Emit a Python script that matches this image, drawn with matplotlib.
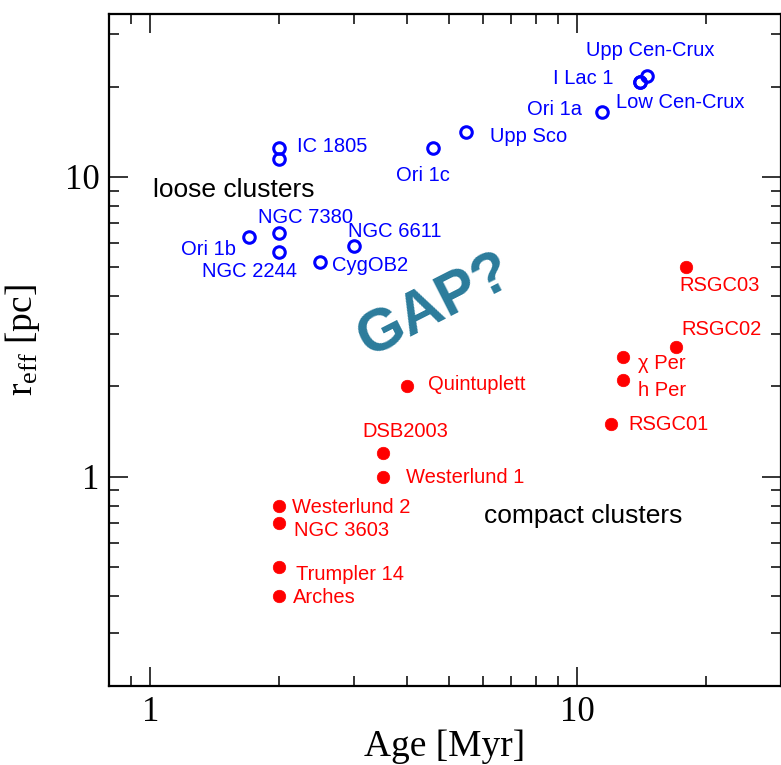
import matplotlib
matplotlib.use("Agg")
import matplotlib.pyplot as plt
from matplotlib.ticker import FuncFormatter, NullFormatter, LogLocator

plt.rcParams["mathtext.fontset"] = "custom"
plt.rcParams["mathtext.rm"] = "Liberation Serif"
plt.rcParams["mathtext.it"] = "Liberation Serif:italic"

# loose clusters (open symbols); "" = second IC 1805 estimate, no label
loose_names = ["IC 1805", "", "NGC 7380", "NGC 2244", "Ori 1b", "CygOB2",
               "NGC 6611", "Ori 1c", "Upp Sco", "Ori 1a", "I Lac 1",
               "Low Cen-Crux", "Upp Cen-Crux"]
loose_age = [2.0, 2.0, 2.0, 2.0, 1.7, 2.5, 3.0, 4.6, 5.5, 11.4, 14.0, 14.0, 14.6]
loose_reff = [12.5, 11.5, 6.5, 5.6, 6.3, 5.2, 5.9, 12.5, 14.1, 16.5, 20.7, 20.7, 21.8]

# compact clusters (filled symbols)
compact_names = ["RSGC03", "RSGC02", "\u03c7 Per", "h Per", "RSGC01",
                 "Quintuplett", "DSB2003", "Westerlund 1", "Westerlund 2",
                 "NGC 3603", "Trumpler 14", "Arches"]
compact_age = [18.0, 17.0, 12.8, 12.8, 12.0, 4.0, 3.5, 3.5, 2.0, 2.0, 2.0, 2.0]
compact_reff = [5.0, 2.7, 2.5, 2.1, 1.5, 2.0, 1.2, 1.0, 0.8, 0.7, 0.5, 0.4]

# label placement: offset in pixels from the symbol, horizontal alignment
label_pos = {
    "IC 1805": (18, 1, "left"),
    "NGC 7380": (-21, 16, "left"),
    "NGC 2244": (-77, -19, "left"),
    "Ori 1b": (-68, -12, "left"),
    "CygOB2": (12, -3, "left"),
    "NGC 6611": (-6, 14, "left"),
    "Ori 1c": (-37, -28, "left"),
    "Upp Sco": (24, -4, "left"),
    "Ori 1a": (-20, 2, "right"),
    "I Lac 1": (-26, 4, "right"),
    "Low Cen-Crux": (-24, -20, "left"),
    "Upp Cen-Crux": (-61, 25, "left"),
    "RSGC03": (-7, -18, "left"),
    "RSGC02": (6, 18, "left"),
    "\u03c7 Per": (15, -6, "left"),
    "h Per": (15, -10, "left"),
    "RSGC01": (17, -1, "left"),
    "Quintuplett": (21, 2, "left"),
    "DSB2003": (-20, 21, "left"),
    "Westerlund 1": (23, -1, "left"),
    "Westerlund 2": (13, -2, "left"),
    "NGC 3603": (15, -7, "left"),
    "Trumpler 14": (17, -8, "left"),
    "Arches": (14, -2, "left"),
}

BLUE = "#0000ff"
RED = "#ff0000"
GAP_COLOR = "#2b7b9b"
LABEL_FONT = "Liberation Sans"
SERIF = "Liberation Serif"

fig = plt.figure(figsize=(7.81, 7.65), dpi=100)
ax = fig.add_axes([109 / 781, 1 - 686 / 765, 672 / 781, 672 / 765])

ax.plot(loose_age, loose_reff, "o", ls="none", mfc="none", mec=BLUE,
        ms=8.3, mew=2.2)
ax.plot(compact_age, compact_reff, "o", ls="none", mfc=RED, mec=RED,
        ms=9.0, mew=0.5)


def label_points(names, ages, radii, color):
    for name, a, r in zip(names, ages, radii):
        if not name:
            continue
        dx, dy, ha = label_pos[name]
        ax.annotate(name, (a, r), xytext=(dx, dy), textcoords="offset pixels",
                    ha=ha, va="center", color=color, fontsize=14.5,
                    family=LABEL_FONT)


label_points(loose_names, loose_age, loose_reff, BLUE)
label_points(compact_names, compact_age, compact_reff, RED)

ax.text(1.016, 9.05, "loose clusters", fontsize=19, family=LABEL_FONT,
        ha="left", va="center")
ax.text(6.03, 0.736, "compact clusters", fontsize=19, family=LABEL_FONT,
        ha="left", va="center")
ax.text(4.65, 3.72, "GAP?", fontsize=43, fontweight="bold", family=LABEL_FONT,
        color=GAP_COLOR, rotation=27, ha="center", va="center",
        rotation_mode="anchor")

ax.set_xscale("log")
ax.set_yscale("log")
ax.set_xlim(0.8, 30)
ax.set_ylim(0.2, 35)

for axis in (ax.xaxis, ax.yaxis):
    axis.set_major_locator(LogLocator(base=10))
    axis.set_minor_locator(LogLocator(base=10, subs=range(2, 10)))
    axis.set_major_formatter(FuncFormatter(lambda v, p: f"{v:g}"))
    axis.set_minor_formatter(NullFormatter())

ax.tick_params(which="both", direction="in", top=True, right=True,
               labelsize=25, pad=7)
ax.tick_params(which="major", length=14, width=1.1)
ax.tick_params(which="minor", length=7, width=1.1)
for lab in ax.get_xticklabels() + ax.get_yticklabels():
    lab.set_family(SERIF)
for sp in ax.spines.values():
    sp.set_linewidth(1.6)

ax.set_xlabel("Age [Myr]", fontsize=27, family=SERIF)
ax.set_ylabel(r"r$_{\rm eff}$ [pc]", fontsize=27, family=SERIF)
ax.xaxis.set_label_coords(0.5, -0.064)
ax.yaxis.set_label_coords(-0.1, 0.515)

fig.savefig("out.png", dpi=100)
